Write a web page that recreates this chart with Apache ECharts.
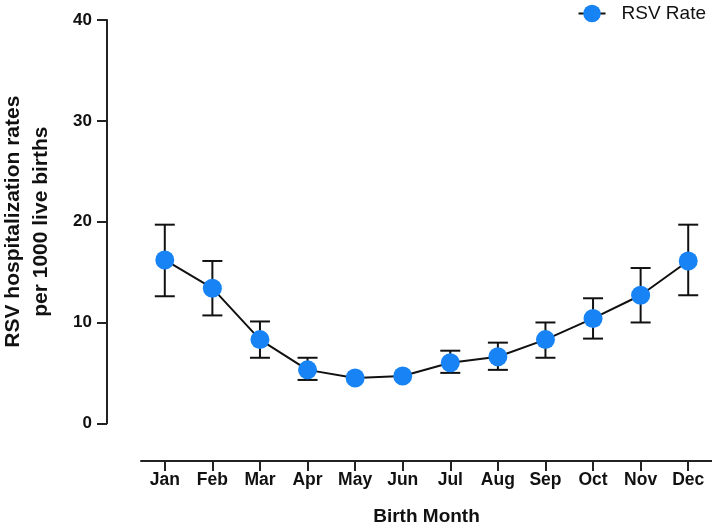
<!DOCTYPE html>
<html>
<head>
<meta charset="utf-8">
<script src="https://cdn.jsdelivr.net/npm/echarts@6/dist/echarts.min.js"></script>
<style>
html,body{margin:0;padding:0;background:#fff;}
#chart{width:712px;height:528px;}
</style>
</head>
<body>
<div id="chart"></div>
<script>
const months = ['Jan','Feb','Mar','Apr','May','Jun','Jul','Aug','Sep','Oct','Nov','Dec'];
const rsvRate = [16.2, 13.4, 8.3, 5.3, 4.5, 4.7, 6.0, 6.6, 8.3, 10.4, 12.7, 16.1];
const ciLower = [12.6, 10.7, 6.5, 4.3, null, null, 5.0, 5.3, 6.5, 8.4, 10.0, 12.7];
const ciUpper = [19.7, 16.1, 10.1, 6.5, null, null, 7.2, 8.0, 10.0, 12.4, 15.4, 19.7];
const yTicks = [0, 10, 20, 30, 40];

const FONT = '"Liberation Sans", Arial, Helvetica, sans-serif';
const errData = months.map((m, i) => [i, ciLower[i], ciUpper[i]]).filter(d => d[1] != null);

const chart = echarts.init(document.getElementById('chart'), null, {renderer: 'canvas'});
chart.setOption({
  animation: false,
  backgroundColor: '#ffffff',
  textStyle: {fontFamily: FONT},
  grid: {left: 141, right: 0, top: 20, bottom: 104.7, containLabel: false, outerBoundsMode: 'none'},
  legend: {
    right: 1, top: -1,
    itemWidth: 27, itemHeight: 22,
    data: ['RSV Rate'],
    textStyle: {fontFamily: FONT, fontSize: 19, color: '#111', padding: [0, 0, 0, 11]}
  },
  xAxis: {
    type: 'category',
    data: months,
    boundaryGap: true,
    offset: 37.7,
    axisLine: {onZero: false, lineStyle: {color: '#222', width: 2}},
    axisTick: {show: true, alignWithLabel: true, interval: 0, length: 10, lineStyle: {color: '#222', width: 2}},
    axisLabel: {fontFamily: FONT, fontWeight: 'bold', fontSize: 17.5, color: '#111', margin: 10, interval: 0},
    name: 'Birth Month',
    nameLocation: 'middle',
    nameGap: 46,
    nameTextStyle: {fontFamily: FONT, fontWeight: 'bold', fontSize: 19, color: '#111'}
  },
  yAxis: {
    type: 'value',
    min: yTicks[0], max: yTicks[yTicks.length - 1], interval: 10,
    offset: 34,
    splitLine: {show: false},
    axisLine: {show: true, onZero: false, lineStyle: {color: '#222', width: 2}},
    axisTick: {show: true, length: 10, lineStyle: {color: '#222', width: 2}},
    axisLabel: {fontFamily: FONT, fontWeight: 'bold', fontSize: 17, color: '#111', margin: 15},
    name: 'RSV hospitalization rates\nper 1000 live births',
    nameLocation: 'middle',
    nameGap: 52,
    nameTextStyle: {fontFamily: FONT, fontWeight: 'bold', fontSize: 21, color: '#111', lineHeight: 28}
  },
  series: [
    {
      type: 'custom',
      name: 'CI',
      z: 1,
      data: errData,
      renderItem: function (params, api) {
        const x = api.value(0);
        const lo = api.coord([x, api.value(1)]);
        const hi = api.coord([x, api.value(2)]);
        const hw = 10;
        const st = {stroke: '#111', lineWidth: 2};
        return {
          type: 'group',
          children: [
            {type: 'line', shape: {x1: lo[0], y1: lo[1], x2: hi[0], y2: hi[1]}, style: st},
            {type: 'line', shape: {x1: lo[0] - hw, y1: lo[1], x2: lo[0] + hw, y2: lo[1]}, style: st},
            {type: 'line', shape: {x1: hi[0] - hw, y1: hi[1], x2: hi[0] + hw, y2: hi[1]}, style: st}
          ]
        };
      }
    },
    {
      type: 'line',
      name: 'RSV Rate',
      z: 3,
      data: rsvRate,
      symbol: 'circle',
      symbolSize: 19,
      lineStyle: {color: '#111', width: 2},
      itemStyle: {color: '#1783F5', borderWidth: 0}
    }
  ]
});
</script>
</body>
</html>
